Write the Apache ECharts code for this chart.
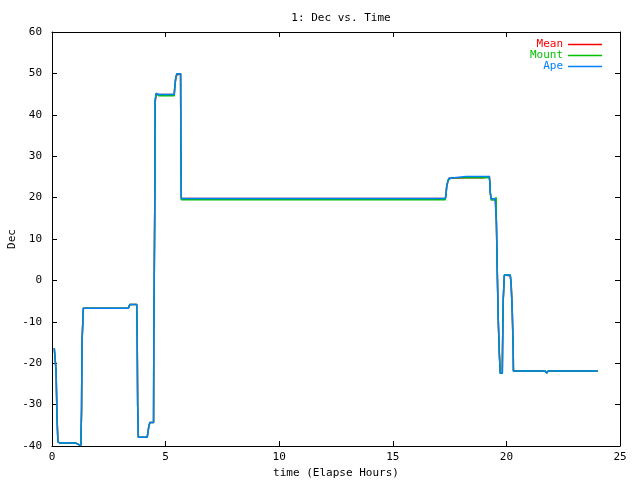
<!DOCTYPE html>
<html>
<head>
<meta charset="utf-8">
<script src="https://cdn.jsdelivr.net/npm/echarts@6/dist/echarts.min.js"></script>
<style>html,body{margin:0;padding:0;background:#fff;}#c{width:640px;height:480px;}</style>
</head>
<body>
<div id="c"></div>
<script>
var titleText = '1: Dec vs. Time';
var xName = 'time (Elapse Hours)';
var yName = 'Dec';
var seriesNames = ['Mean', 'Mount', 'Ape'];
var seriesColors = ['#ff0000', '#00c000', '#0080ff'];

var times = [0.10,0.17,0.18,0.22,0.26,0.35,1.05,1.09,1.27,1.30,1.32,1.38,3.36,3.43,3.73,3.75,3.77,3.80,4.19,4.26,4.31,4.47,4.48,4.53,4.54,4.59,4.65,4.69,5.38,5.40,5.44,5.49,5.66,5.67,5.69,17.31,17.34,17.37,17.43,17.48,17.56,18.23,18.98,19.25,19.27,19.29,19.33,19.51,19.55,19.56,19.60,19.64,19.69,19.73,19.82,19.83,19.86,19.91,20.17,20.21,20.26,20.30,20.31,21.70,21.77,21.84,24.02];

var ape = [-16.4,-16.4,-21.9,-32.9,-39.0,-39.3,-39.3,-39.6,-39.9,-31.5,-15.2,-6.7,-6.7,-5.8,-5.8,-14.0,-29.9,-37.9,-37.9,-35.3,-34.3,-34.3,-15.2,23.5,43.6,45.2,45.4,44.9,44.9,46.4,48.6,49.9,49.9,34.7,19.8,19.8,20.6,22.6,24.1,24.7,25.1,25.1,25.1,25.1,23.7,21.2,19.7,19.7,20.1,14.0,1.7,-9.2,-17.8,-22.4,-22.4,-16.6,-4.7,1.3,1.3,-0.9,-7.9,-17.3,-21.9,-21.9,-22.4,-21.9,-21.9];

var mean = [-16.4,-16.4,-21.9,-32.9,-39.0,-39.3,-39.3,-39.6,-39.9,-31.5,-15.2,-6.7,-6.7,-5.8,-5.8,-14.0,-29.9,-37.9,-37.9,-35.3,-34.3,-34.3,-15.2,23.5,43.0,45.0,45.4,44.9,44.9,46.4,48.6,49.6,49.9,34.5,19.8,19.8,20.6,22.6,24.1,24.7,25.1,24.8,24.8,25.1,23.7,21.2,19.7,19.7,20.1,14.0,1.7,-9.2,-17.8,-22.4,-22.4,-16.6,-4.9,1.3,1.1,-0.9,-7.9,-17.3,-21.9,-21.9,-22.4,-21.9,-21.9];

var mount = [-16.4,-16.4,-21.9,-32.9,-39.0,-39.3,-39.3,-39.6,-39.9,-31.5,-15.2,-6.7,-6.7,-5.8,-5.8,-14.0,-29.9,-37.9,-37.9,-35.3,-34.3,-34.3,-15.2,23.5,43.6,45.2,45.0,44.6,44.6,46.4,48.6,49.9,49.9,34.7,19.5,19.5,20.4,22.6,24.1,24.5,24.8,24.8,24.8,24.8,23.7,21.2,19.4,19.4,20.1,14.0,1.7,-9.2,-17.8,-22.4,-22.4,-16.6,-4.7,1.3,1.3,-0.9,-7.9,-17.3,-21.9,-21.9,-22.4,-21.9,-21.9];

var valuesBySeries = [mean, mount, ape];
var FONT = 'DejaVu Sans Mono';

function pairs(vals) {
  return times.map(function (t, i) { return [t, vals[i]]; });
}

var chart = echarts.init(document.getElementById('c'), null, {renderer: 'canvas'});

function axisCommon() {
  return {
    axisLine: {show: true, onZero: false, lineStyle: {color: '#000', width: 1}},
    axisTick: {show: true, inside: true, length: 5, lineStyle: {color: '#000', width: 1}},
    splitLine: {show: false}
  };
}

var option = {
  backgroundColor: '#fff',
  animation: false,
  title: {
    text: titleText,
    left: 336, top: 8, textAlign: 'center',
    textStyle: {fontFamily: FONT, fontSize: 11, fontWeight: 'normal', color: '#000'}
  },
  legend: {
    orient: 'vertical',
    right: 33, top: 34,
    align: 'right',
    icon: 'rect',
    itemWidth: 34, itemHeight: 1.5, itemGap: 0,
    textStyle: {fontFamily: FONT, fontSize: 11, lineHeight: 10.5},
    data: seriesNames.map(function (n, i) {
      return {name: n, textStyle: {color: seriesColors[i]}, itemStyle: {color: seriesColors[i]}};
    })
  },
  grid: {left: 52, right: 20, top: 32, bottom: 34, containLabel: false, outerBoundsMode: 'none'},
  xAxis: [
    Object.assign({
      type: 'value', position: 'bottom', min: 0, max: 25, interval: 5,
      name: xName, nameLocation: 'middle', nameGap: 21,
      nameTextStyle: {fontFamily: FONT, fontSize: 11, color: '#000'},
      axisLabel: {fontFamily: FONT, fontSize: 11, color: '#000', margin: 6}
    }, axisCommon()),
    Object.assign({
      type: 'value', position: 'top', min: 0, max: 25, interval: 5,
      axisLabel: {show: false}
    }, axisCommon())
  ],
  yAxis: [
    Object.assign({
      type: 'value', position: 'left', min: -40, max: 60, interval: 10,
      name: yName, nameLocation: 'middle', nameGap: 34, nameRotate: 90,
      nameMoveOverlap: false,
      nameTextStyle: {fontFamily: FONT, fontSize: 11, color: '#000'},
      axisLabel: {fontFamily: FONT, fontSize: 11, color: '#000', margin: 10}
    }, axisCommon()),
    Object.assign({
      type: 'value', position: 'right', min: -40, max: 60, interval: 10,
      axisLabel: {show: false}
    }, axisCommon())
  ],
  series: seriesNames.map(function (n, i) {
    return {
      name: n, type: 'line', xAxisIndex: 0, yAxisIndex: 0,
      data: pairs(valuesBySeries[i]),
      showSymbol: false, symbol: 'none',
      lineStyle: {color: seriesColors[i], width: 1.5},
      itemStyle: {color: seriesColors[i]},
      emphasis: {disabled: true}
    };
  })
};
chart.setOption(option);
</script>
</body>
</html>
